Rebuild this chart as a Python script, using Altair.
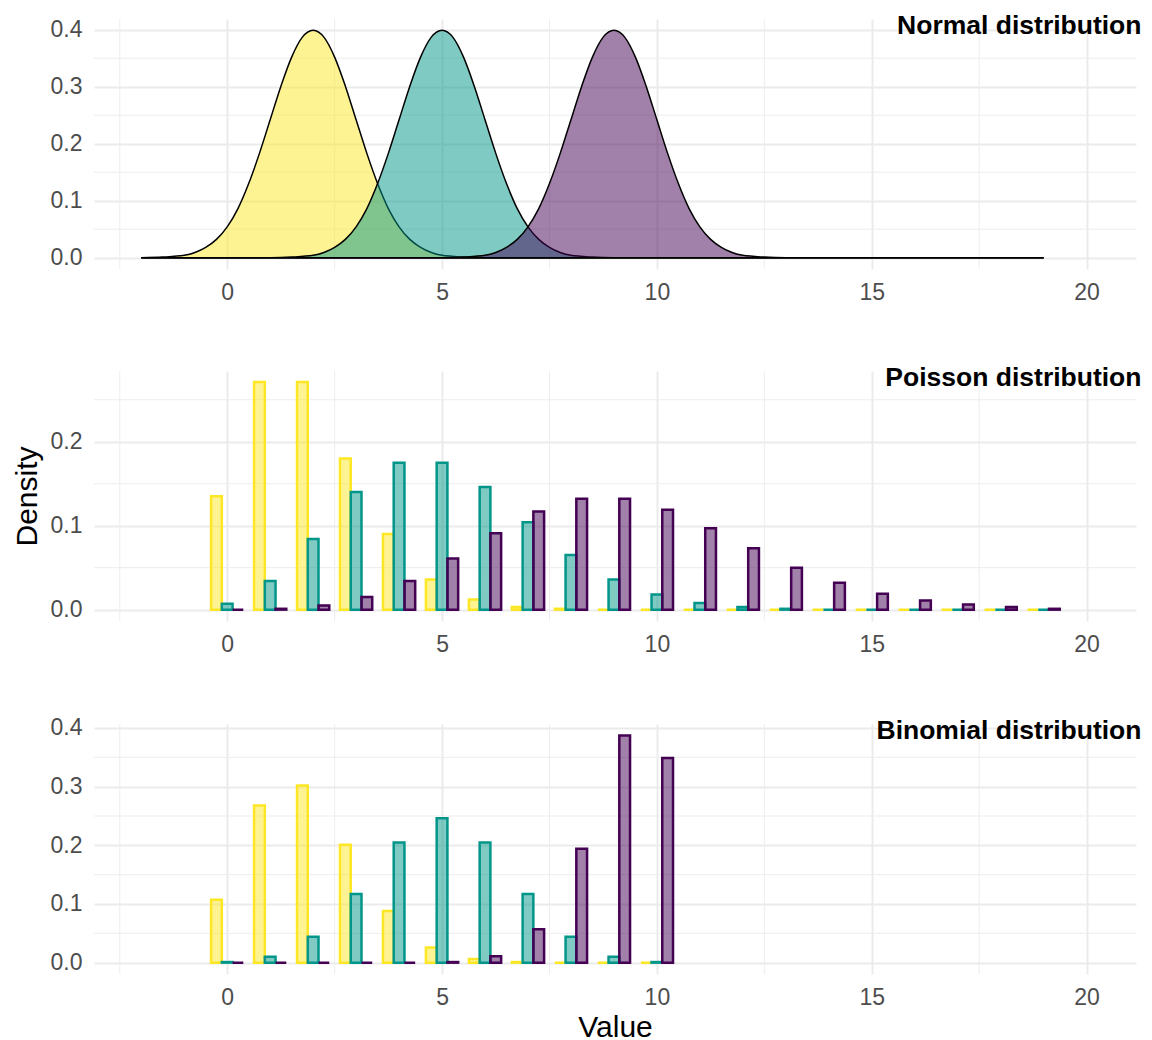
import altair as alt
import pandas as pd

# ---------------- data ----------------
x_ticks = [0, 5, 10, 15, 20]
x_minor = [-2.5, 2.5, 7.5, 12.5, 17.5]
x_domain = [-3.1, 21.15]

group_keys = ["g1", "g2", "g3"]
group_colors = ["#FDE725", "#02968A", "#440154"]

# Normal densities (means 2, 5, 9)
norm_x_1 = [-2.0, -1.5, -1.0, -0.75, -0.5, -0.25, 0.0, 0.25, 0.5, 0.75, 1.0, 1.25, 1.5, 1.75,
            2.0, 2.25, 2.5, 2.75, 3.0, 3.25, 3.5, 3.75, 4.0, 4.25, 4.5, 4.75, 5.0, 5.5, 6.0, 19.0]
norm_y_1 = [0.000, 0.001, 0.004, 0.009, 0.018, 0.032, 0.054, 0.086, 0.130, 0.183, 0.242, 0.301, 0.352, 0.387,
            0.399, 0.387, 0.352, 0.301, 0.242, 0.183, 0.130, 0.086, 0.054, 0.032, 0.018, 0.009, 0.004, 0.001, 0.000, 0.000]
norm_x_2 = [-2.0, 1.0, 1.5, 2.0, 2.25, 2.5, 2.75, 3.0, 3.25, 3.5, 3.75, 4.0, 4.25, 4.5, 4.75,
            5.0, 5.25, 5.5, 5.75, 6.0, 6.25, 6.5, 6.75, 7.0, 7.25, 7.5, 7.75, 8.0, 8.5, 9.0, 19.0]
norm_y_2 = [0.000, 0.000, 0.001, 0.004, 0.009, 0.018, 0.032, 0.054, 0.086, 0.130, 0.183, 0.242, 0.301, 0.352, 0.387,
            0.399, 0.387, 0.352, 0.301, 0.242, 0.183, 0.130, 0.086, 0.054, 0.032, 0.018, 0.009, 0.004, 0.001, 0.000, 0.000]
norm_x_3 = [-2.0, 5.0, 5.5, 6.0, 6.25, 6.5, 6.75, 7.0, 7.25, 7.5, 7.75, 8.0, 8.25, 8.5, 8.75,
            9.0, 9.25, 9.5, 9.75, 10.0, 10.25, 10.5, 10.75, 11.0, 11.25, 11.5, 11.75, 12.0, 12.5, 13.0, 19.0]
norm_y_3 = [0.000, 0.000, 0.001, 0.004, 0.009, 0.018, 0.032, 0.054, 0.086, 0.130, 0.183, 0.242, 0.301, 0.352, 0.387,
            0.399, 0.387, 0.352, 0.301, 0.242, 0.183, 0.130, 0.086, 0.054, 0.032, 0.018, 0.009, 0.004, 0.001, 0.000, 0.000]

# Poisson probabilities (lambda 2, 5, 9), k = 0..19
pois_k = list(range(20))
pois_1 = [0.135, 0.271, 0.271, 0.180, 0.090, 0.036, 0.012, 0.003, 0.001, 0.000,
          0.000, 0.000, 0.000, 0.000, 0.000, 0.000, 0.000, 0.000, 0.000, 0.000]
pois_2 = [0.007, 0.034, 0.084, 0.140, 0.175, 0.175, 0.146, 0.104, 0.065, 0.036,
          0.018, 0.008, 0.003, 0.001, 0.000, 0.000, 0.000, 0.000, 0.000, 0.000]
pois_3 = [0.000, 0.001, 0.005, 0.015, 0.034, 0.061, 0.091, 0.117, 0.132, 0.132,
          0.119, 0.097, 0.073, 0.050, 0.032, 0.019, 0.011, 0.006, 0.003, 0.001]

# Binomial probabilities (n = 10; p = 0.2, 0.5, 0.9), k = 0..10
binom_k = list(range(11))
binom_1 = [0.107, 0.268, 0.302, 0.201, 0.088, 0.026, 0.006, 0.001, 0.000, 0.000, 0.000]
binom_2 = [0.001, 0.010, 0.044, 0.117, 0.205, 0.246, 0.205, 0.117, 0.044, 0.010, 0.001]
binom_3 = [0.000, 0.000, 0.000, 0.000, 0.000, 0.001, 0.011, 0.057, 0.194, 0.387, 0.349]

titles = ["Normal distribution", "Poisson distribution", "Binomial distribution"]
y_ticks_big = [0.0, 0.1, 0.2, 0.3, 0.4]
y_minor_big = [0.05, 0.15, 0.25, 0.35]
y_ticks_small = [0.0, 0.1, 0.2]
y_minor_small = [0.05, 0.15, 0.25]
y_dom_norm = [-0.01995, 0.41884]
y_dom_pois = [-0.01353, 0.28424]
y_dom_binom = [-0.01937, 0.40681]

# ---------------- tables ----------------
norm_df = pd.concat([
    pd.DataFrame({"x": xs, "y": ys, "grp": g})
    for xs, ys, g in [(norm_x_1, norm_y_1, "g1"), (norm_x_2, norm_y_2, "g2"), (norm_x_3, norm_y_3, "g3")]
], ignore_index=True)


def bar_table(ks, series):
    parts = []
    for i, (vals, g) in enumerate(zip(series, group_keys)):
        parts.append(pd.DataFrame({"k": ks, "y": vals, "grp": g, "slot": i}))
    return pd.concat(parts, ignore_index=True)


pois_df = bar_table(pois_k, [pois_1, pois_2, pois_3])
binom_df = bar_table(binom_k, [binom_1, binom_2, binom_3])

FONT = "Liberation Sans"
W, H = 1042, 250
color_scale = alt.Scale(domain=group_keys, range=group_colors)


def x_enc(field, show_title):
    ax = alt.Axis(values=x_ticks, format="d", grid=True)
    sc = alt.Scale(domain=x_domain, nice=False, zero=False)
    if show_title:
        return alt.X(field, type="quantitative", scale=sc, axis=ax, title="Value")
    return alt.X(field, type="quantitative", scale=sc, axis=ax, title=None)


def y_enc(field, dom, ticks, show_title):
    ax = alt.Axis(values=ticks, format=".1f", grid=True, titleOpacity=1 if show_title else 0)
    return alt.Y(field, type="quantitative", scale=alt.Scale(domain=dom, nice=False, zero=False),
                 axis=ax, title="Density", stack=None)


def guides(dom, ticks, minor_y, show_y_title, show_x_title):
    xr = alt.Chart(pd.DataFrame({"xm": x_minor})).mark_rule(color="#EDEDED", strokeWidth=1.0).encode(
        x=x_enc("xm", show_x_title))
    yr = alt.Chart(pd.DataFrame({"ym": minor_y})).mark_rule(color="#EDEDED", strokeWidth=1.0).encode(
        y=y_enc("ym", dom, ticks, show_y_title))
    return xr, yr


def title_mark(t):
    return alt.Chart(pd.DataFrame({"label": [t]})).mark_text(
        align="right", baseline="alphabetic", font=FONT, fontSize=26.5, fontWeight="bold", color="black"
    ).encode(text="label:N", x=alt.value(W + 5.5), y=alt.value(14.5))


# Panel 1: normal
xr, yr = guides(y_dom_norm, y_ticks_big, y_minor_big, False, False)
areas = alt.Chart(norm_df).mark_area(
    fillOpacity=0.5, stroke="black", strokeWidth=1.5, interpolate="monotone"
).encode(
    x=x_enc("x", False),
    y=y_enc("y", y_dom_norm, y_ticks_big, False),
    color=alt.Color("grp:N", scale=color_scale, legend=None),
)
p1 = alt.layer(xr, yr, areas, title_mark(titles[0])).properties(width=W, height=H)


def bar_panel(df, dom, ticks, minor, title, show_y_title, show_x_title):
    xr, yr = guides(dom, ticks, minor, show_y_title, show_x_title)
    bars = alt.Chart(df).transform_calculate(
        x0="datum.k - 0.375 + 0.25 * datum.slot",
        x1="datum.k - 0.125 + 0.25 * datum.slot",
    ).mark_rect(fillOpacity=0.5, strokeWidth=2.5).encode(
        x=x_enc("x0", show_x_title),
        x2="x1:Q",
        y=y_enc("y", dom, ticks, show_y_title),
        y2=alt.datum(0),
        fill=alt.Color("grp:N", scale=color_scale, legend=None),
        stroke=alt.Color("grp:N", scale=color_scale, legend=None),
    )
    return alt.layer(xr, yr, bars, title_mark(title)).properties(width=W, height=H)


p2 = bar_panel(pois_df, y_dom_pois, y_ticks_small, y_minor_small, titles[1], True, False)
p3 = bar_panel(binom_df, y_dom_binom, y_ticks_big, y_minor_big, titles[2], False, True)

chart = alt.vconcat(p1, p2, p3, spacing=60).properties(
    padding={"left": 4, "top": 4, "right": 0, "bottom": 0}
).configure_view(stroke=None).configure_axis(
    domain=False, ticks=False, tickSize=0,
    labelFont=FONT, labelFontSize=23, labelColor="#4D4D4D", labelPadding=12,
    titleFont=FONT, titleFontSize=30, titleFontWeight="normal", titleColor="black",
    gridColor="#EBEBEB", gridWidth=2,
).configure_axisY(titlePadding=8).configure_axisX(titlePadding=3)

chart.save("out.html", embed_options={"renderer": "svg", "actions": False})
